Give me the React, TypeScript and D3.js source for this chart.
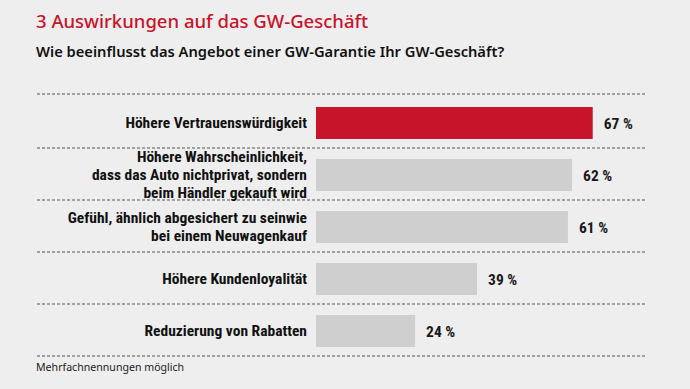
import * as d3 from 'd3';

const title = '3 Auswirkungen auf das GW-Geschäft';
const subtitle = 'Wie beeinflusst das Angebot einer GW-Garantie Ihr GW-Geschäft?';
const footnote = 'Mehrfachnennungen möglich';

const categories: string[][] = [
  ['Höhere Vertrauenswürdigkeit'],
  ['Höhere Wahrscheinlichkeit,', 'dass das Auto nichtprivat, sondern', 'beim Händler gekauft wird'],
  ['Gefühl, ähnlich abgesichert zu seinwie', 'bei einem Neuwagenkauf'],
  ['Höhere Kundenloyalität'],
  ['Reduzierung von Rabatten'],
];
const values = [67, 62, 61, 39, 24];
const highlighted = [true, false, false, false, false];

const W = 690;
const H = 389;
const RED = '#c8142a';
const GREY = '#cfcfcf';
const condensed = "'Roboto Condensed', 'Liberation Sans Narrow', 'DejaVu Sans Condensed', Roboto, sans-serif";

export default function App() {
  const x = d3.scaleLinear().domain([0, 100]).range([316, 316 + 413]);
  const y = d3
    .scaleBand<number>()
    .domain(values.map((_, i) => i))
    .range([96, 356]);
  const barH = 32;
  const gridLines = [...y.domain().map((i) => y(i)!), 356];

  return (
    <svg
      width={W}
      height={H}
      viewBox={`0 0 ${W} ${H}`}
      style={{ position: 'absolute', left: 0, top: 0, background: '#eeeeee' }}
    >
      <rect width={W} height={H} fill="#eeeeee" />
      <text x={36} y={28} fill={RED} fontFamily="'Noto Sans', sans-serif" fontWeight={500} fontSize={18.5}>
        {title}
      </text>
      <text x={36} y={57} fill="#111" fontFamily="'Noto Sans', sans-serif" fontWeight={600} fontSize={14.7}>
        {subtitle}
      </text>

      {gridLines.map((gy, i) => (
        <line
          key={i}
          x1={37}
          x2={646}
          y1={gy - (i === 0 ? 2 : 0)}
          y2={gy - (i === 0 ? 2 : 0)}
          stroke="#555"
          strokeWidth={1}
          strokeDasharray="3,2"
        />
      ))}

      {values.map((v, i) => {
        const cy = y(i)! + y.bandwidth() / 2 + 1;
        const lines = categories[i];
        const lh = 18;
        const first = cy - ((lines.length - 1) * lh) / 2 + 5;
        return (
          <g key={i}>
            <rect
              x={x(0)}
              y={cy - barH / 2}
              width={x(v) - x(0)}
              height={barH}
              fill={highlighted[i] ? RED : GREY}
            />
            <text
              textAnchor="end"
              fontFamily={condensed}
              fontWeight={700}
              fontSize={15.5}
              fill="#111"
            >
              {lines.map((l, j) => (
                <tspan key={j} x={307} y={first + j * lh}>
                  {l}
                </tspan>
              ))}
            </text>
            <text
              x={x(v) + 11}
              y={cy + 6}
              fontFamily={condensed}
              fontWeight={700}
              fontSize={15.5}
              fill="#1a1a1a"
            >
              {`${v} %`}
            </text>
          </g>
        );
      })}

      <text x={36} y={371} fill="#222" fontFamily="'Noto Sans', sans-serif" fontSize={10.6}>
        {footnote}
      </text>
    </svg>
  );
}
